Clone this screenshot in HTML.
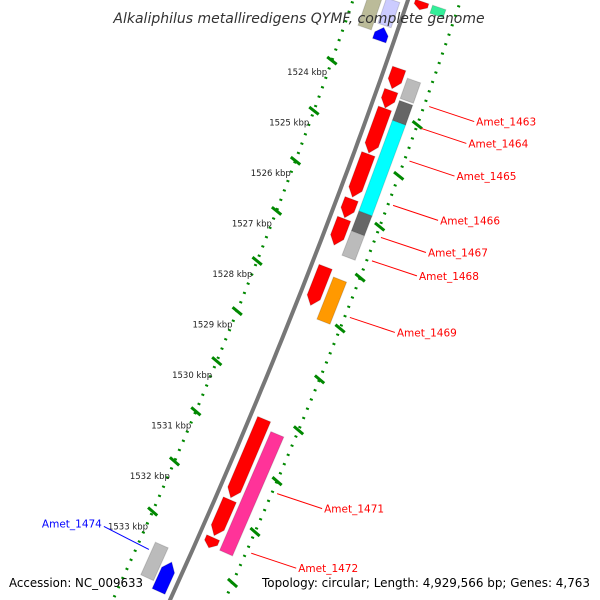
<!DOCTYPE html>
<html><head><meta charset="utf-8"><style>
html,body{margin:0;background:#fff;width:600px;height:600px;overflow:hidden}
svg{display:block;font-family:"DejaVu Sans","Liberation Sans",sans-serif}
</style></head><body>
<svg id="map" width="600" height="600" viewBox="0 0 600 600" xmlns="http://www.w3.org/2000/svg">
<g id="scale"></g><g id="genes"></g><g id="labels"></g>
<text x="299" y="23" text-anchor="middle" font-size="14" font-style="italic" fill="#333">Alkaliphilus metalliredigens QYMF, complete genome</text>
<text x="9" y="587" font-size="12" textLength="134" lengthAdjust="spacingAndGlyphs" fill="#000">Accession: NC_009633</text>
<text x="262" y="587" font-size="12" textLength="328" lengthAdjust="spacingAndGlyphs" fill="#000">Topology: circular; Length: 4,929,566 bp; Genes: 4,763</text>
</svg>
<script>
const tickLabels=["1524 kbp","1525 kbp","1526 kbp","1527 kbp","1528 kbp","1529 kbp","1530 kbp","1531 kbp","1532 kbp","1533 kbp"];
const tickKbp=[1524,1525,1526,1527,1528,1529,1530,1531,1532,1533];
const geneStart=[1523.72,1524.16,1524.51,1525.41,1526.30,1526.69,1527.64,1530.65,1532.24,1532.99,1523.84,1524.28,1524.67,1526.46,1526.85,1527.76,1530.81,1522.46,1522.55,1523.09,1533.49,1533.70,1522.40,1522.40];
const geneEnd=[1524.12,1524.50,1525.39,1526.26,1526.67,1527.21,1528.40,1532.20,1532.95,1533.19,1524.24,1524.67,1526.46,1526.85,1527.33,1528.59,1533.15,1523.21,1523.05,1523.35,1534.14,1534.28,1522.56,1522.56];
const geneLane=[14,14,14,14,14,14,14,14,14,14,32,32,32,32,32,32,32,-32,-14,-14,-30,-14,14,32];
const geneColor=["#f00","#f00","#f00","#f00","#f00","#f00","#f00","#f00","#f00","#f00","#bbb","#666","#0ff","#666","#bbb","#f90","#f39","#bb9","#ccf","#00f","#bbb","#00f","#f00","#3e9"];
const geneStrand=[1,1,1,1,1,1,1,1,1,1,0,0,0,0,0,0,0,0,0,-1,0,-1,1,0];
const labelNames=["Amet_1463","Amet_1464","Amet_1465","Amet_1466","Amet_1467","Amet_1468","Amet_1469","Amet_1471","Amet_1472","Amet_1474"];
const labelKbp=[1524.2,1524.63,1525.27,1526.14,1526.77,1527.23,1528.34,1531.8,1532.97,1533.66];
const labelSide=[1,1,1,1,1,1,1,1,1,-1];

const NS="http://www.w3.org/2000/svg";
function yOf(k){return 78+(k-1524)*50.5;}
function xOf(y){return 408-0.3392*y-0.0000958*y*y;}
function slope(y){return -0.3392-2*0.0000958*y;}
function pt(y,o){const s=slope(y);const n=Math.sqrt(1+s*s);return [xOf(y)+o/n,y-o*s/n];}
function mk(tag,attrs,parent){const e=document.createElementNS(NS,tag);for(const k in attrs)e.setAttribute(k,attrs[k]);parent.appendChild(e);return e;}
const scale=document.getElementById('scale'),genesG=document.getElementById('genes'),labelsG=document.getElementById('labels');
function curvePath(o){let d="";for(let y=-20;y<=620;y+=10){const p=pt(y,o);d+=(d?"L":"M")+p[0].toFixed(1)+","+p[1].toFixed(1);}return d;}
let bb=mk('path',{d:curvePath(0),stroke:'#777',"stroke-width":4,fill:'none'},scale);


let dl=mk('path',{d:curvePath(-52),stroke:'#080',"stroke-width":3,"stroke-dasharray":"2 8",fill:'none'},scale);


let dr=mk('path',{d:curvePath(50),stroke:'#080',"stroke-width":3,"stroke-dasharray":"2 8",fill:'none'},scale);


for(let i=0;i<tickKbp.length;i++){
  const y=yOf(tickKbp[i]);const a=pt(y,-57),b=pt(y,-47);
  const t=mk('line',{x1:a[0],y1:a[1]-2,x2:b[0],y2:b[1]+2,stroke:'#080',"stroke-width":3},scale);
  
  
  const c=pt(y+30,45),d=pt(y+30,55);
  const t2=mk('line',{x1:c[0],y1:c[1]-2,x2:d[0],y2:d[1]+2,stroke:'#080',"stroke-width":3},scale);
  
  
  const tx=mk('text',{x:a[0],y:y-3,"text-anchor":"end","font-size":8.5,fill:'#222'},scale);
  tx.textContent=tickLabels[i];
  
  
}
for(let i=0;i<geneStart.length;i++){
  const y1=yOf(geneStart[i]),y2=yOf(geneEnd[i]),o=geneLane[i],w=14,s=geneStrand[i];
  let pts=[];const head=Math.min(8,(y2-y1)/2);
  if(s===1){pts=[pt(y1,o-w/2),pt(y1,o+w/2),pt(y2-head,o+w/2),pt(y2,o),pt(y2-head,o-w/2)];}
  else if(s===-1){pts=[pt(y1+head,o-w/2),pt(y1,o),pt(y1+head,o+w/2),pt(y2,o+w/2),pt(y2,o-w/2)];}
  else{pts=[pt(y1,o-w/2),pt(y1,o+w/2),pt(y2,o+w/2),pt(y2,o-w/2)];}
  const g=mk('polygon',{points:pts.map(p=>p[0].toFixed(1)+","+p[1].toFixed(1)).join(" "),fill:geneColor[i],stroke:'rgba(0,0,0,0.15)',"stroke-width":1},genesG);
  
  
}
for(let i=0;i<labelNames.length;i++){
  const y=yOf(labelKbp[i]),side=labelSide[i];
  const col=side>0?'#f00':'#00f';
  let a,bx,by;
  if(side>0){a=pt(y,55);bx=a[0]+45;by=a[1]+15;}
  else{a=pt(y,-40);bx=a[0]-45;by=a[1]-23;}
  const l=mk('line',{x1:a[0],y1:a[1],x2:bx,y2:by,stroke:col,"stroke-width":1},labelsG);
  
  
  const t=mk('text',{x:side>0?bx+2:bx-2,y:side>0?by+4:by+1,"text-anchor":side>0?'start':'end',"font-size":10.5,fill:col},labelsG);
  t.textContent=labelNames[i];
  
  
}
</script>
</body></html>
